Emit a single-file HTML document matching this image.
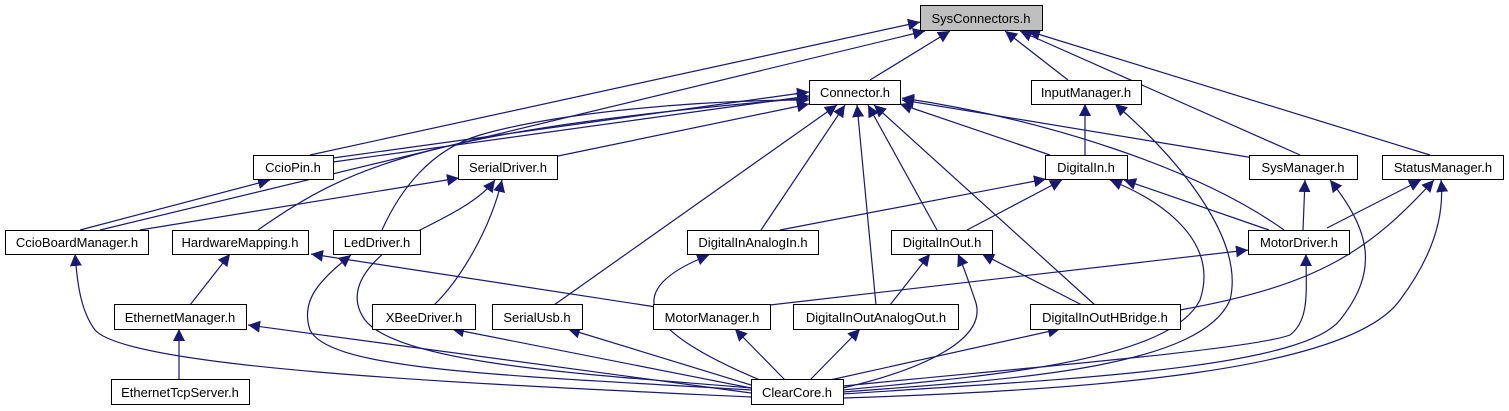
<!DOCTYPE html>
<html><head><meta charset="utf-8"><style>
html,body{margin:0;padding:0;background:#fff;width:1509px;height:411px;overflow:hidden}
text{font-family:"Liberation Sans",Arial,sans-serif;font-size:13px;fill:#000}
</style></head><body>
<svg width="1509" height="411" viewBox="0 0 1509 411" xmlns="http://www.w3.org/2000/svg">
<defs><marker id="a" viewBox="0 0 10 10" refX="10" refY="5" markerWidth="12" markerHeight="12" markerUnits="userSpaceOnUse" orient="auto"><path d="M0,0L10,5L0,10z" fill="#191970"/></marker></defs>
<g fill="none" stroke="#191970" stroke-width="1.2" marker-end="url(#a)">
<path d="M870,80L950,31"/>
<path d="M1068,80L1005,31"/>
<path d="M1300,155L1020,31"/>
<path d="M1430,155L1028,31"/>
<path d="M310,155L920,22"/>
<path d="M100,230L925,31"/>
<path d="M333,158L809,92"/>
<path d="M333,162L809,96"/>
<path d="M80,230L270,180"/>
<path d="M558,156L809,104"/>
<path d="M258,230C350,165 430,130 809,98"/>
<path d="M382,230C400,190 430,150 480,135C560,112 700,100 809,100"/>
<path d="M140,230L459,178"/>
<path d="M434,305C460,280 490,230 502,180"/>
<path d="M554,305L837,105"/>
<path d="M761,230L845,105"/>
<path d="M876,305L857,105"/>
<path d="M937,230L868,105"/>
<path d="M1095,305L874,105"/>
<path d="M1050,155L900,104"/>
<path d="M1254,158L902,100"/>
<path d="M1284,230C1200,170 1050,120 902,98"/>
<path d="M1085,155L1085,104"/>
<path d="M780,230L1046,179"/>
<path d="M967,230L1062,180"/>
<path d="M1269,230L1124,180"/>
<path d="M1303,230L1305,180"/>
<path d="M1327,228L1421,180"/>
<path d="M1180,310C1320,285 1370,250 1434,180"/>
<path d="M770,305L1248,250"/>
<path d="M656,307L311,254"/>
<path d="M190,305L230,254"/>
<path d="M179,380L179,329"/>
<path d="M890,305L930,254"/>
<path d="M1082,305L982,254"/>
<path d="M843,392C1000,380 1200,370 1230,300C1245,240 1180,160 1115,104"/>
<path d="M843,390C1000,375 1170,360 1200,300C1220,240 1160,200 1110,180"/>
<path d="M843,394C1050,380 1300,370 1340,320C1380,270 1370,230 1330,180"/>
<path d="M843,398C1100,390 1350,370 1400,300C1430,260 1445,220 1441,180"/>
<path d="M843,386C1000,370 1250,350 1290,335C1310,320 1306,290 1306,254"/>
<path d="M830,380L1060,329"/>
<path d="M843,388C920,370 990,340 975,300C968,280 965,270 958,254"/>
<path d="M810,380L860,329"/>
<path d="M785,380L735,329"/>
<path d="M760,380C640,330 620,290 709,255"/>
<path d="M751,385L568,329"/>
<path d="M751,388L452,329"/>
<path d="M751,390C500,375 330,370 310,330C300,300 320,280 351,255"/>
<path d="M751,388C600,375 400,365 365,320C340,285 380,250 420,230C450,215 480,200 495,180"/>
<path d="M751,393L248,325"/>
<path d="M751,397C500,385 130,370 95,330C80,310 77,280 75,254"/>
</g>
<g stroke="#000" stroke-width="1" fill="#fff">
<rect x="920.5" y="5.5" width="122" height="25" fill="#bfbfbf"/>
<rect x="809.5" y="80.5" width="91" height="24"/>
<rect x="1031.5" y="80.5" width="110" height="24"/>
<rect x="253.5" y="155.5" width="80" height="24"/>
<rect x="458.5" y="155.5" width="99" height="24"/>
<rect x="1045.5" y="155.5" width="82" height="24"/>
<rect x="1249.5" y="155.5" width="108" height="24"/>
<rect x="1382.5" y="155.5" width="121" height="24"/>
<rect x="5.5" y="230.5" width="143" height="24"/>
<rect x="172.5" y="230.5" width="136" height="24"/>
<rect x="333.5" y="230.5" width="87" height="24"/>
<rect x="687.5" y="230.5" width="131" height="24"/>
<rect x="891.5" y="230.5" width="101" height="24"/>
<rect x="1248.5" y="230.5" width="101" height="24"/>
<rect x="114.5" y="304.5" width="132" height="25"/>
<rect x="372.5" y="304.5" width="103" height="25"/>
<rect x="492.5" y="304.5" width="90" height="25"/>
<rect x="653.5" y="304.5" width="117" height="25"/>
<rect x="793.5" y="304.5" width="165" height="25"/>
<rect x="1030.5" y="304.5" width="150" height="25"/>
<rect x="111.5" y="379.5" width="138" height="25"/>
<rect x="751.5" y="379.5" width="92" height="25"/>
</g>
<g text-anchor="middle">
<text x="981" y="23">SysConnectors.h</text>
<text x="855" y="97">Connector.h</text>
<text x="1086" y="97">InputManager.h</text>
<text x="293" y="172">CcioPin.h</text>
<text x="508" y="172">SerialDriver.h</text>
<text x="1086" y="172">DigitalIn.h</text>
<text x="1303" y="172">SysManager.h</text>
<text x="1443" y="172">StatusManager.h</text>
<text x="77" y="247">CcioBoardManager.h</text>
<text x="240" y="247">HardwareMapping.h</text>
<text x="377" y="247">LedDriver.h</text>
<text x="753" y="247">DigitalInAnalogIn.h</text>
<text x="942" y="247">DigitalInOut.h</text>
<text x="1299" y="247">MotorDriver.h</text>
<text x="180" y="322">EthernetManager.h</text>
<text x="424" y="322">XBeeDriver.h</text>
<text x="537" y="322">SerialUsb.h</text>
<text x="712" y="322">MotorManager.h</text>
<text x="876" y="322">DigitalInOutAnalogOut.h</text>
<text x="1105" y="322">DigitalInOutHBridge.h</text>
<text x="180" y="397">EthernetTcpServer.h</text>
<text x="797" y="397">ClearCore.h</text>
</g>
</svg>
</body></html>
